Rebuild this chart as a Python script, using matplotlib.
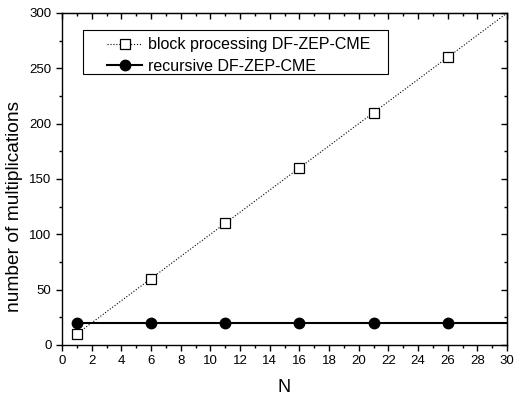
import matplotlib.pyplot as plt
from matplotlib.patches import Rectangle
from matplotlib.ticker import MultipleLocator

plt.rcParams['font.family'] = ['Liberation Sans', 'DejaVu Sans']

N = [1, 6, 11, 16, 21, 26, 30]
block = [10, 60, 110, 160, 210, 260, 300]
recursive = [20, 20, 20, 20, 20, 20, 20]

fig = plt.figure(figsize=(5.14, 3.95), dpi=100)
ax = fig.add_axes([0.1206, 0.1266, 0.866, 0.8405])

ax.plot(N, block, ls=':', lw=0.8, color='black', marker='s', ms=6.5,
        mfc='white', mec='black', mew=0.9, markevery=slice(0, 6),
        label='block processing DF-ZEP-CME')
ax.plot(N, recursive, ls='-', lw=1.5, color='black', marker='o', ms=7.5,
        mfc='black', markevery=slice(0, 6),
        label='recursive DF-ZEP-CME')

ax.set_xlim(0, 30)
ax.set_ylim(0, 300)
ax.xaxis.set_major_locator(MultipleLocator(2))
ax.xaxis.set_minor_locator(MultipleLocator(1))
ax.yaxis.set_major_locator(MultipleLocator(50))
ax.yaxis.set_minor_locator(MultipleLocator(25))
ax.tick_params(which='both', labelsize=9.5, width=1)
ax.tick_params(which='major', length=4)
ax.tick_params(which='minor', length=2)
for s in ax.spines.values():
    s.set_linewidth(1)

# mirrored ticks on top / right pointing inward
ax2 = ax.secondary_xaxis('top')
ax2.xaxis.set_major_locator(MultipleLocator(2))
ax2.xaxis.set_minor_locator(MultipleLocator(1))
ax2.tick_params(which='both', direction='in', labeltop=False, width=1)
ax2.tick_params(which='major', length=4)
ax2.tick_params(which='minor', length=2)
ax3 = ax.secondary_yaxis('right')
ax3.yaxis.set_major_locator(MultipleLocator(50))
ax3.yaxis.set_minor_locator(MultipleLocator(25))
ax3.tick_params(which='both', direction='in', labelright=False, width=1)
ax3.tick_params(which='major', length=4)
ax3.tick_params(which='minor', length=2)

ax.set_xlabel('N', fontsize=13, labelpad=8)
ax.set_ylabel('number of multiplications', fontsize=13.8)
ax.yaxis.set_label_coords(-0.088, 0.416)

# legend box drawn separately (Origin-style wide padding)
ax.add_patch(Rectangle((0.047, 0.816), 0.686, 0.133, transform=ax.transAxes,
                       fill=True, facecolor='white', edgecolor='black',
                       lw=0.8, zorder=4))
leg = ax.legend(loc='upper left', bbox_to_anchor=(0.101, 0.927), fontsize=11.5,
                frameon=False, handlelength=2.2, handletextpad=0.4,
                borderpad=0, labelspacing=0.4, borderaxespad=0)
leg.set_zorder(5)

fig.savefig('out.png', dpi=100)
